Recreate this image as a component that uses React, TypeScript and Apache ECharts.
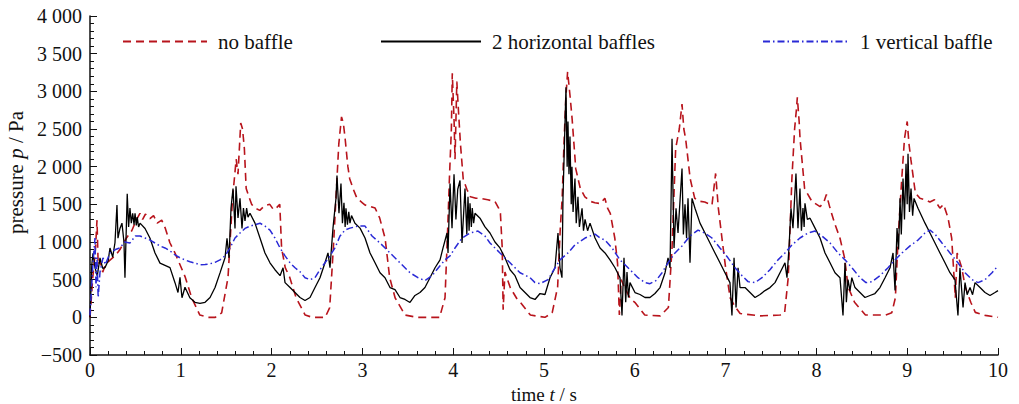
import React, { useEffect, useRef } from "react";
import * as echarts from "echarts";

const xTicks = [0, 1, 2, 3, 4, 5, 6, 7, 8, 9, 10];
const yTicks = [-500, 0, 500, 1000, 1500, 2000, 2500, 3000, 3500, 4000];
const seriesNames = ["no baffle", "2 horizontal baffles", "1 vertical baffle"];

// time t / s, pressure p / Pa
const noBaffle: number[][] = [
  [0, 0], [0.03, 520], [0.06, 900], [0.077, 1290], [0.09, 700], [0.11, 750], [0.14, 600], [0.17, 700],
  [0.22, 760], [0.28, 820], [0.33, 900], [0.4, 1050], [0.46, 1150], [0.51, 1290], [0.55, 1380], [0.58, 1300],
  [0.61, 1370], [0.66, 1310], [0.7, 1350], [0.74, 1250], [0.79, 1290], [0.83, 1180], [0.88, 990], [0.93, 870],
  [0.97, 760], [1.05, 530], [1.12, 260], [1.21, 30], [1.3, 0], [1.38, 0], [1.45, 60], [1.52, 530],
  [1.57, 1580], [1.61, 2100], [1.63, 1900], [1.66, 2580], [1.68, 2500], [1.7, 2240], [1.72, 1710], [1.75, 1600],
  [1.78, 1500], [1.82, 1450], [1.87, 1420], [1.92, 1480], [1.98, 1500], [2.02, 1430], [2.05, 1450], [2.09, 1500],
  [2.11, 920], [2.15, 660], [2.2, 530], [2.27, 260], [2.37, 30], [2.45, 0], [2.59, 0], [2.64, 130],
  [2.68, 920], [2.72, 1840], [2.74, 2300], [2.77, 2660], [2.79, 2580], [2.81, 2370], [2.84, 2000], [2.86, 1840],
  [2.9, 1700], [2.94, 1580], [3.0, 1520], [3.03, 1490], [3.09, 1470], [3.14, 1450], [3.19, 1320], [3.25, 1050],
  [3.3, 530], [3.36, 260], [3.47, 30], [3.6, 0], [3.85, 0], [3.91, 260], [3.94, 1200], [3.96, 1900],
  [3.98, 2500], [3.99, 3240], [4.01, 2600], [4.02, 2100], [4.04, 3130], [4.06, 2700], [4.08, 2300], [4.11, 1840],
  [4.15, 1700], [4.19, 1600], [4.25, 1580], [4.3, 1580], [4.38, 1560], [4.46, 1540], [4.5, 1450], [4.52, 1380],
  [4.54, 920], [4.55, 100], [4.57, 600], [4.63, 390], [4.7, 250], [4.74, 200], [4.85, 30], [5.01, 0],
  [5.09, 60], [5.15, 400], [5.18, 1200], [5.2, 1580], [5.22, 2300], [5.24, 2900], [5.26, 3260], [5.29, 2900],
  [5.31, 2630], [5.33, 2300], [5.35, 1970], [5.4, 1710], [5.45, 1600], [5.51, 1540], [5.56, 1520], [5.62, 1510],
  [5.67, 1580], [5.7, 1450], [5.73, 1380], [5.78, 1050], [5.81, 720], [5.83, 30], [5.85, 500], [5.89, 390],
  [5.95, 250], [6.0, 200], [6.11, 30], [6.28, 20], [6.37, 130], [6.41, 920], [6.45, 2240], [6.49, 2500],
  [6.52, 2830], [6.54, 2500], [6.56, 2370], [6.61, 1840], [6.66, 1580], [6.72, 1540], [6.77, 1530], [6.85, 1490],
  [6.89, 1910], [6.92, 1450], [6.96, 1050], [7.0, 660], [7.05, 260], [7.1, 150], [7.16, 50], [7.38, 20],
  [7.6, 30], [7.65, 60], [7.69, 530], [7.73, 1840], [7.76, 2500], [7.78, 2760], [7.79, 2920], [7.81, 2600],
  [7.82, 2370], [7.87, 1710], [7.95, 1540], [8.04, 1470], [8.08, 1520], [8.11, 1630], [8.15, 1450], [8.2, 1250],
  [8.26, 1050], [8.31, 790], [8.35, 400], [8.42, 200], [8.54, 30], [8.76, 30], [8.83, 60], [8.87, 260],
  [8.9, 1050], [8.94, 1840], [8.97, 2370], [9.0, 2600], [9.02, 2300], [9.04, 2100], [9.09, 1650], [9.14, 1580],
  [9.2, 1560], [9.25, 1530], [9.3, 1560], [9.36, 1450], [9.4, 1500], [9.45, 1320], [9.49, 1050], [9.53, 260],
  [9.55, 855], [9.6, 660], [9.64, 400], [9.7, 200], [9.75, 66], [9.86, 26], [10, 0],
];

const horizontalBaffles: number[][] = [
  [0, 0], [0.02, 700], [0.033, 850], [0.055, 660], [0.08, 550], [0.11, 790], [0.14, 650], [0.165, 660],
  [0.2, 750], [0.22, 920], [0.25, 800], [0.275, 990], [0.297, 1490], [0.308, 1050], [0.33, 1180], [0.352, 1250],
  [0.374, 1000], [0.385, 526], [0.41, 1640], [0.425, 1200], [0.44, 1450], [0.455, 1250], [0.47, 1380], [0.485, 1230],
  [0.496, 1380], [0.51, 1220], [0.52, 1330], [0.535, 1200], [0.551, 1250], [0.606, 1180], [0.661, 1050], [0.716, 855],
  [0.771, 720], [0.826, 690], [0.881, 660], [0.936, 460], [0.969, 330], [0.991, 530], [1.013, 260], [1.046, 400],
  [1.1, 260], [1.156, 200], [1.211, 185], [1.267, 200], [1.322, 263], [1.377, 395], [1.432, 590], [1.487, 790],
  [1.509, 1050], [1.531, 790], [1.553, 1450], [1.575, 1710], [1.597, 1180], [1.608, 1740], [1.63, 1320], [1.652, 1580],
  [1.674, 1180], [1.69, 1450], [1.707, 1280], [1.725, 1450], [1.74, 1330], [1.762, 1382], [1.817, 1250], [1.872, 1053],
  [1.927, 855], [1.982, 724], [2.037, 632], [2.093, 553], [2.126, 658], [2.148, 461], [2.203, 395], [2.258, 329],
  [2.313, 263], [2.368, 224], [2.423, 263], [2.478, 395], [2.533, 526], [2.588, 724], [2.621, 855], [2.643, 658],
  [2.676, 1184], [2.709, 1579], [2.72, 1882], [2.742, 1382], [2.764, 1777], [2.78, 1250], [2.797, 1520], [2.81, 1200],
  [2.819, 1448], [2.835, 1230], [2.85, 1400], [2.863, 1250], [2.88, 1350], [2.918, 1250], [2.974, 1184], [3.029, 1053],
  [3.084, 855], [3.139, 724], [3.194, 592], [3.249, 526], [3.304, 395], [3.359, 368], [3.414, 263], [3.469, 237],
  [3.524, 197], [3.579, 290], [3.634, 329], [3.689, 395], [3.744, 526], [3.8, 658], [3.855, 763], [3.888, 921],
  [3.932, 1119], [3.943, 855], [3.965, 1777], [3.987, 1184], [4.009, 1900], [4.03, 1300], [4.05, 1700], [4.075, 1816],
  [4.097, 987], [4.13, 1711], [4.15, 1100], [4.163, 1600], [4.175, 1150], [4.185, 1513], [4.2, 1200], [4.21, 1450],
  [4.225, 1250], [4.24, 1382], [4.295, 1316], [4.35, 1200], [4.405, 1119], [4.46, 1000], [4.515, 921], [4.57, 790],
  [4.626, 632], [4.681, 553], [4.736, 395], [4.791, 329], [4.846, 263], [4.901, 237], [4.956, 316], [5.011, 303],
  [5.066, 526], [5.121, 658], [5.154, 1119], [5.176, 658], [5.198, 526], [5.209, 1579], [5.242, 3053], [5.255, 2000],
  [5.264, 2600], [5.275, 1900], [5.286, 2400], [5.3, 1500], [5.308, 2000], [5.32, 1400], [5.341, 1842], [5.355, 1250],
  [5.374, 1600], [5.39, 1200], [5.419, 1448], [5.435, 1150], [5.452, 1300], [5.48, 1150], [5.507, 1250], [5.562, 1053],
  [5.617, 921], [5.672, 855], [5.727, 763], [5.782, 658], [5.837, 526], [5.859, 26], [5.881, 790], [5.9, 200],
  [5.914, 600], [5.93, 263], [5.947, 461], [6.002, 329], [6.057, 303], [6.112, 263], [6.167, 263], [6.222, 316],
  [6.278, 395], [6.333, 592], [6.366, 790], [6.388, 658], [6.41, 2369], [6.432, 921], [6.454, 1448], [6.476, 1119],
  [6.52, 1974], [6.535, 1100], [6.553, 1500], [6.57, 1050], [6.586, 1579], [6.608, 724], [6.63, 1579], [6.663, 1448],
  [6.718, 1250], [6.773, 1119], [6.828, 987], [6.883, 855], [6.938, 724], [6.993, 592], [7.048, 461], [7.07, 26],
  [7.093, 790], [7.115, 132], [7.137, 658], [7.159, 395], [7.214, 395], [7.269, 329], [7.324, 263], [7.379, 303],
  [7.434, 355], [7.489, 395], [7.544, 461], [7.599, 592], [7.654, 724], [7.676, 526], [7.698, 921], [7.72, 1448],
  [7.742, 1184], [7.775, 1908], [7.797, 1184], [7.819, 1711], [7.835, 1150], [7.852, 1450], [7.865, 1200], [7.874, 1513],
  [7.9, 1300], [7.93, 1316], [7.985, 1184], [8.04, 1053], [8.095, 855], [8.15, 724], [8.205, 592], [8.26, 526],
  [8.293, 26], [8.315, 724], [8.33, 200], [8.348, 500], [8.37, 350], [8.39, 526], [8.425, 395], [8.48, 329],
  [8.535, 263], [8.59, 290], [8.645, 316], [8.7, 395], [8.756, 526], [8.811, 658], [8.844, 855], [8.866, 355],
  [8.888, 1184], [8.905, 900], [8.921, 1579], [8.935, 1100], [8.954, 1842], [8.97, 1300], [8.987, 2040], [9.0, 1500],
  [9.009, 2171], [9.025, 1400], [9.042, 1711], [9.06, 1350], [9.075, 1579], [9.119, 1448], [9.196, 1250], [9.251, 1119],
  [9.306, 987], [9.361, 855], [9.416, 724], [9.471, 592], [9.526, 500], [9.559, 26], [9.581, 658], [9.615, 132],
  [9.637, 461], [9.66, 300], [9.692, 395], [9.72, 300], [9.747, 461], [9.802, 395], [9.857, 329], [9.912, 290],
  [9.967, 329], [10, 355],
];

const verticalBaffle: number[][] = [
  [0, 26], [0.033, 724], [0.055, 1053], [0.066, 400], [0.077, 800], [0.09, 263], [0.11, 600], [0.143, 790],
  [0.17, 700], [0.22, 855], [0.28, 900], [0.33, 921], [0.38, 1000], [0.44, 987], [0.5, 1080], [0.551, 1079],
  [0.606, 1053], [0.661, 1026], [0.716, 987], [0.771, 948], [0.826, 921], [0.881, 882], [0.936, 830], [0.991, 790],
  [1.046, 763], [1.101, 737], [1.156, 720], [1.211, 697], [1.267, 700], [1.322, 711], [1.377, 730], [1.432, 763],
  [1.487, 816], [1.542, 921], [1.597, 1053], [1.652, 1119], [1.707, 1180], [1.762, 1211], [1.817, 1230], [1.872, 1250],
  [1.927, 1211], [1.982, 1158], [2.037, 1053], [2.093, 921], [2.148, 816], [2.203, 724], [2.258, 658], [2.313, 605],
  [2.368, 526], [2.423, 500], [2.478, 526], [2.533, 632], [2.588, 724], [2.643, 816], [2.698, 921], [2.753, 1079],
  [2.808, 1158], [2.863, 1184], [2.952, 1211], [3.029, 1211], [3.106, 1079], [3.194, 987], [3.304, 855], [3.414, 724],
  [3.524, 592], [3.612, 526], [3.689, 487], [3.767, 553], [3.855, 684], [3.91, 763], [3.965, 816], [4.02, 921],
  [4.097, 1053], [4.185, 1119], [4.273, 1145], [4.35, 1079], [4.405, 987], [4.515, 855], [4.626, 724], [4.736, 592],
  [4.846, 526], [4.901, 461], [4.956, 447], [5.044, 500], [5.121, 658], [5.176, 763], [5.264, 855], [5.341, 961],
  [5.452, 1053], [5.562, 1105], [5.617, 1053], [5.672, 1026], [5.749, 921], [5.837, 763], [5.947, 632], [6.035, 526],
  [6.112, 461], [6.167, 447], [6.233, 487], [6.3, 592], [6.366, 724], [6.443, 855], [6.52, 948], [6.608, 1079],
  [6.696, 1158], [6.773, 1119], [6.85, 1053], [6.938, 921], [7.026, 790], [7.104, 658], [7.181, 553], [7.247, 474],
  [7.324, 461], [7.401, 526], [7.489, 632], [7.577, 763], [7.654, 855], [7.731, 961], [7.819, 1053], [7.907, 1119],
  [7.985, 1145], [8.062, 1079], [8.15, 987], [8.238, 855], [8.315, 763], [8.392, 658], [8.48, 526], [8.546, 461],
  [8.612, 474], [8.7, 553], [8.789, 658], [8.866, 763], [8.943, 855], [9.031, 948], [9.119, 1026], [9.196, 1119],
  [9.251, 1158], [9.306, 1105], [9.383, 987], [9.471, 855], [9.559, 724], [9.637, 592], [9.714, 500], [9.78, 461],
  [9.857, 500], [9.934, 592], [10, 684],
];

const FONT = "Times New Roman";

function fmtY(v: number): string {
  const neg = v < 0;
  const a = Math.abs(v);
  let s = String(a);
  if (a >= 1000) s = s.slice(0, s.length - 3) + " " + s.slice(s.length - 3);
  return (neg ? "\u2212" : "") + s;
}

export default function App() {
  const ref = useRef<HTMLDivElement>(null);
  useEffect(() => {
    if (!ref.current) return;
    const chart = echarts.init(ref.current, undefined, { renderer: "svg" });
    const legendText = { fontFamily: FONT, fontSize: 21, color: "#111", padding: [0, 0, 0, 6] };
    const legendCommon = { top: 26, itemHeight: 12, textStyle: legendText, selectedMode: false, itemStyle: { opacity: 0 } };
    const italicX = { fontStyle: "italic", fontFamily: FONT, fontSize: 19, lineHeight: 18, color: "#111" };
    const italicY = { fontStyle: "italic", fontFamily: FONT, fontSize: 21, color: "#111" };
    chart.setOption({
      animation: false,
      backgroundColor: "#fff",
      textStyle: { fontFamily: FONT },
      grid: { left: 90, right: 21, top: 16, bottom: 49, containLabel: false, outerBoundsMode: "none" },
      legend: [
        { ...legendCommon, data: [seriesNames[0]], left: 117, itemWidth: 84 },
        { ...legendCommon, data: [seriesNames[1]], left: 375, itemWidth: 100 },
        { ...legendCommon, data: [seriesNames[2]], left: 757, itemWidth: 86 },
      ],
      xAxis: {
        type: "value",
        min: xTicks[0],
        max: xTicks[xTicks.length - 1],
        interval: 1,
        name: "time {i|t} / s",
        nameLocation: "middle",
        nameGap: 18,
        nameTextStyle: { fontFamily: FONT, fontSize: 19, lineHeight: 18, color: "#111", rich: { i: italicX } },
        axisLine: { show: true, onZero: false, lineStyle: { color: "#111", width: 1.5 } },
        axisTick: { show: true, inside: true, length: 7, lineStyle: { color: "#111" } },
        minorTick: { show: true, splitNumber: 5, length: 4, lineStyle: { color: "#111" } },
        axisLabel: { fontFamily: FONT, fontSize: 20, color: "#111", margin: 5 },
        splitLine: { show: false },
      },
      yAxis: {
        type: "value",
        min: yTicks[0],
        max: yTicks[yTicks.length - 1],
        interval: 500,
        name: "pressure {i|p} / Pa",
        nameLocation: "middle",
        nameGap: 63,
        nameRotate: 90,
        nameTextStyle: { fontFamily: FONT, fontSize: 21, color: "#111", padding: [0, 0, 0, 26], rich: { i: italicY } },
        axisLine: { show: true, onZero: false, lineStyle: { color: "#111", width: 1.5 } },
        axisTick: { show: true, inside: true, length: 7, lineStyle: { color: "#111" } },
        minorTick: { show: true, splitNumber: 5, length: 4, lineStyle: { color: "#111" } },
        axisLabel: { fontFamily: FONT, fontSize: 20, color: "#111", margin: 8, formatter: (v: number) => fmtY(v) },
        splitLine: { show: false },
      },
      series: [
        {
          name: seriesNames[0], type: "line", data: noBaffle, symbol: "none", z: 2,
          lineStyle: { color: "#b8141c", width: 1.6, type: [8, 5] }, itemStyle: { color: "#b8141c" },
        },
        {
          name: seriesNames[1], type: "line", data: horizontalBaffles, symbol: "none", z: 3,
          lineStyle: { color: "#000", width: 1.3, type: "solid" }, itemStyle: { color: "#000" },
        },
        {
          name: seriesNames[2], type: "line", data: verticalBaffle, symbol: "none", z: 4,
          lineStyle: { color: "#2a2ad6", width: 1.5, type: [7, 3, 1.5, 3] }, itemStyle: { color: "#2a2ad6" },
        },
      ],
    });
    return () => chart.dispose();
  }, []);
  return <div ref={ref} style={{ position: "fixed", left: 0, top: 0, width: 1019, height: 404 }} />;
}
